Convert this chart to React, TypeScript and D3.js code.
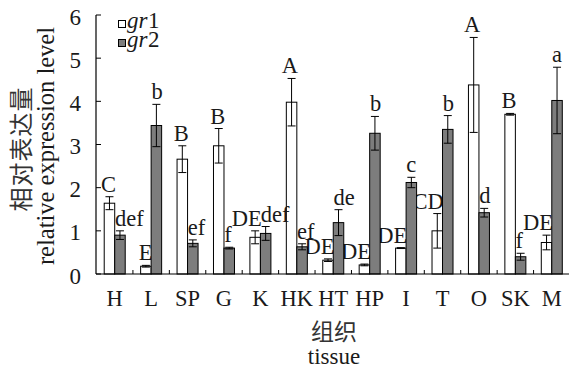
import React from "react";
import * as d3 from "d3";

const categories = ["H", "L", "SP", "G", "K", "HK", "HT", "HP", "I", "T", "O", "SK", "M"];
const gr1Values = [1.64, 0.18, 2.66, 2.97, 0.85, 3.98, 0.32, 0.21, 0.6, 1.0, 4.38, 3.7, 0.73];
const gr1Errors = [0.15, 0.02, 0.31, 0.4, 0.15, 0.55, 0.03, 0.02, 0.01, 0.4, 1.1, 0.02, 0.17];
const gr2Values = [0.9, 3.44, 0.71, 0.6, 0.94, 0.63, 1.19, 3.26, 2.12, 3.35, 1.42, 0.4, 4.02];
const gr2Errors = [0.1, 0.49, 0.08, 0.02, 0.16, 0.07, 0.3, 0.39, 0.12, 0.32, 0.1, 0.08, 0.77];
const gr1Letters = ["C", "E", "B", "B", "DE", "A", "DE", "DE", "DE", "CD", "A", "B", "DE"];
const gr2Letters = ["def", "b", "ef", "f", "def", "ef", "de", "b", "c", "b", "d", "f", "a"];
const yTicks = [0, 1, 2, 3, 4, 5, 6];
const legendNames = ["1", "2"];

const SERIF = "'Liberation Serif', 'Times New Roman', serif";
const CJK = "'Noto Sans CJK SC', sans-serif";

export default function App() {
  const W = 571, H = 374;
  const left = 96.5, right = 570, top = 15, bottom = 274;
  const y = d3.scaleLinear().domain([0, 6]).range([bottom, top]);
  const x = d3.scaleBand<string>().domain(categories).range([left, right]).paddingInner(0).paddingOuter(0);
  const barW = 10.5;
  const step = x.step();
  const x1 = d3.scaleBand<string>().domain(["gr1", "gr2"]).range([(step - 2 * barW) / 2, (step + 2 * barW) / 2]);
  const gray = "#7d7d7d";
  const cap = 4;
  const ink = "#1a1a1a";

  const series = [
    { key: "gr1", vals: gr1Values, errs: gr1Errors, letters: gr1Letters, fill: "#ffffff" },
    { key: "gr2", vals: gr2Values, errs: gr2Errors, letters: gr2Letters, fill: gray },
  ];

  return (
    <svg width={W} height={H} style={{ position: "absolute", left: 0, top: 0, background: "#fff" }}>
      <rect x={0} y={0} width={W} height={H} fill="#fff" />
      {series.map((s) =>
        categories.map((c, i) => {
          const bx = (x(c) as number) + (x1(s.key) as number);
          const cx = bx + barW / 2;
          const v = s.vals[i];
          const e = s.errs[i];
          const yt = y(v + e);
          const yb = y(v - e);
          const lx = s.key === "gr1" ? cx + 6.5 : cx - 5;
          return (
            <g key={s.key + c}>
              <rect x={bx} y={y(v)} width={barW} height={y(0) - y(v)} fill={s.fill} stroke="#000" strokeWidth={1} />
              <line x1={cx} x2={cx} y1={yt} y2={yb} stroke="#000" strokeWidth={1} />
              <line x1={cx - cap} x2={cx + cap} y1={yt} y2={yt} stroke="#000" strokeWidth={1} />
              <line x1={cx - cap} x2={cx + cap} y1={yb} y2={yb} stroke="#000" strokeWidth={1} />
              <text
                x={lx}
                y={yt - 5}
                fontFamily={SERIF}
                fontSize={22.5}
                textAnchor={s.key === "gr1" ? "end" : "start"}
                fill={ink}
              >
                {s.letters[i]}
              </text>
            </g>
          );
        })
      )}
      {/* axes */}
      <line x1={96} x2={96} y1={top} y2={bottom} stroke="#000" strokeWidth={1.2} />
      <line x1={96} x2={569} y1={bottom} y2={bottom} stroke="#000" strokeWidth={1.2} />
      {yTicks.map((t) => (
        <g key={"yt" + t}>
          <line x1={96} x2={101} y1={y(t)} y2={y(t)} stroke="#000" strokeWidth={1} />
          <text x={81} y={y(t)} dy="0.42em" textAnchor="end" fontFamily={SERIF} fontSize={23} fill={ink}>
            {t}
          </text>
        </g>
      ))}
      {categories.slice(1).map((c) => (
        <line key={"xt" + c} x1={x(c) as number} x2={x(c) as number} y1={bottom} y2={bottom - 4} stroke="#000" strokeWidth={1} />
      ))}
      {categories.map((c) => (
        <text
          key={"xl" + c}
          x={(x(c) as number) + step / 2}
          y={306}
          textAnchor="middle"
          fontFamily={SERIF}
          fontSize={22.5}
          fill={ink}
        >
          {c}
        </text>
      ))}
      {/* legend */}
      {legendNames.map((n, i) => (
        <g key={"lg" + n} transform={`translate(0, ${i * 19})`}>
          <rect x={118.5} y={20.5} width={7} height={7} fill={i === 0 ? "#fff" : gray} stroke="#000" strokeWidth={1} />
          <text x={127} y={28} fontFamily={SERIF} fontSize={23} fontStyle="italic" fill={ink}>
            gr
          </text>
          <text x={148} y={28} fontFamily={SERIF} fontSize={23} fill={ink}>
            {n}
          </text>
        </g>
      ))}
      {/* y title */}
      <text
        transform="translate(30,149) rotate(-90)"
        textAnchor="middle"
        fontFamily={CJK}
        fontSize={24}
        letterSpacing={1}
        fill="#333"
      >
        相对表达量
      </text>
      <text
        transform="translate(54,146) rotate(-90)"
        textAnchor="middle"
        fontFamily={SERIF}
        fontSize={24.5}
        fill={ink}
      >
        relative expression level
      </text>
      {/* x title */}
      <text x={334} y={340} textAnchor="middle" fontFamily={CJK} fontSize={23} fill="#333">
        组织
      </text>
      <text x={334} y={364} textAnchor="middle" fontFamily={SERIF} fontSize={23} fill={ink}>
        tissue
      </text>
    </svg>
  );
}
